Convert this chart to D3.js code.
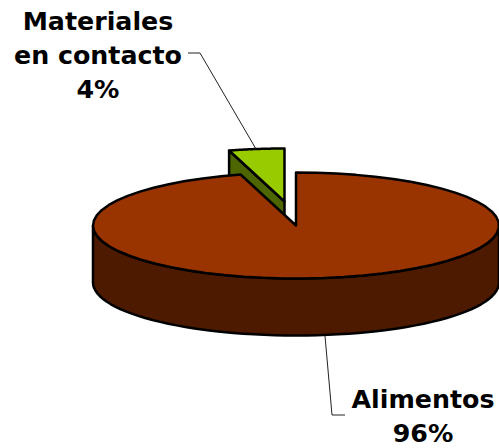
<!DOCTYPE html>
<html>
<head>
<meta charset="utf-8">
<script src="https://cdn.jsdelivr.net/npm/d3@7"></script>
<style>
body{margin:0;background:#fff;}
text{font-family:"DejaVu Sans";font-weight:bold;font-size:25.3px;fill:#000;text-anchor:middle;}
</style>
</head>
<body>
<script>
// values: the labels round them to 96% and 4%
var categories = ['Alimentos','Materiales en contacto'];
var shares = [95.6,4.4];
var topColors = ['#993300','#99cc00'];
var sideColors = ['#4d1a00','#4d6600'];

var w=499, h=448;
var cx=296, cy=225.5, rx=203, ry=53, depth=57;
var explode={x:-11.5,y:-24};   // pulled out slice

var svg=d3.select('body').append('svg').attr('width',w).attr('height',h).style('display','block');

var slices=d3.pie().sort(null).startAngle(0).endAngle(2*Math.PI)(shares);

// tilted disc: angle measured clockwise from 12 o'clock
var px=d3.scaleLinear().domain([-1,1]).range([cx-rx,cx+rx]);
var py=d3.scaleLinear().domain([-1,1]).range([cy-ry,cy+ry]);
function pt(a,dx,dy){return [px(Math.sin(a))+(dx||0),py(-Math.cos(a))+(dy||0)];}
function arcPts(a0,a1,dx,dy){
	return d3.range(0,61).map(function(i){return pt(a0+(a1-a0)*i/60,dx,dy);});
}
var line=d3.line();
function outline(g,pts,fill){
	g.append('path').attr('d',line(pts)+'Z').attr('fill',fill)
		.attr('stroke','#000').attr('stroke-width',2.5).attr('stroke-linejoin','round');
}

var big=slices[0], small=slices[1];
var g=svg.append('g');

// exploded slice first, the big one sits in front of it
var e=explode, apex=[cx+e.x,cy+e.y];
var leftPt=pt(small.startAngle,e.x,e.y);
outline(g,[apex,leftPt,[leftPt[0],leftPt[1]+depth],[apex[0],apex[1]+depth]],sideColors[1]);
outline(g,[apex].concat(arcPts(small.startAngle,small.endAngle,e.x,e.y)),topColors[1]);

// front wall of the big slice
var front=arcPts(Math.PI/2,3*Math.PI/2);
var frontLow=front.map(function(p){return [p[0],p[1]+depth];}).reverse();
outline(g,front.concat(frontLow),sideColors[0]);
outline(g,[[cx,cy]].concat(arcPts(big.startAngle,big.endAngle)),topColors[0]);

// leader lines
var leaders=[
	[[188,53],[200,53],[256,149]],
	[[325,336],[332,415],[345,415]]
];
svg.selectAll('.leader').data(leaders).enter().append('path').attr('class','leader')
	.attr('d',function(d){return line(d);}).attr('fill','none').attr('stroke','#222').attr('stroke-width',1);

// labels
var labels=[
	{x:98,y:30,t:'Materiales'},
	{x:98,y:64,t:'en contacto'},
	{x:98,y:98,t:Math.round(shares[1])+'%'},
	{x:423,y:408,t:categories[0]},
	{x:423,y:442,t:Math.round(shares[0])+'%'}
];
svg.selectAll('text').data(labels).enter().append('text')
	.attr('x',function(d){return d.x;}).attr('y',function(d){return d.y;}).text(function(d){return d.t;});
</script>
</body>
</html>
